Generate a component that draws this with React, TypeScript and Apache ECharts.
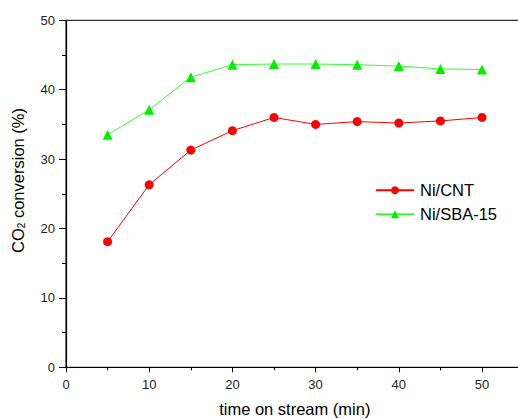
import React, { useEffect, useRef } from "react";
import * as echarts from "echarts";

const timeMin = [5, 10, 15, 20, 25, 30, 35, 40, 45, 50];
const niCnt = [18.1, 26.3, 31.3, 34.1, 36.0, 35.0, 35.4, 35.2, 35.5, 36.0];
const niSba15 = [33.5, 37.1, 41.8, 43.6, 43.7, 43.7, 43.6, 43.4, 43.0, 42.9];
const seriesNames = ["Ni/CNT", "Ni/SBA-15"];

const FONT = "Liberation Sans, Arial, sans-serif";

export default function App() {
  const ref = useRef<HTMLDivElement>(null);
  useEffect(() => {
    if (!ref.current) return;
    const chart = echarts.init(ref.current, null, { renderer: "svg" });
    const pair = (ys: number[]) => timeMin.map((t, i) => [t, ys[i]]);
    chart.setOption({
      animation: false,
      backgroundColor: "#ffffff",
      textStyle: { fontFamily: FONT },
      grid: {
        left: 66,
        top: 20.3,
        width: 457.6,
        height: 347,
        outerBoundsMode: "none",
        containLabel: false,
        show: true,
        borderColor: "#000",
        borderWidth: 1,
        backgroundColor: "transparent",
      },
      legend: {
        left: 375,
        top: 181.7,
        padding: 0,
        orient: "vertical",
        itemWidth: 38,
        itemHeight: 10,
        itemGap: 7,
        textStyle: { fontFamily: FONT, fontSize: 16.5, color: "#000", padding: [0, 0, 0, 1] },
        data: seriesNames,
      },
      xAxis: {
        type: "value",
        min: 0,
        max: 55,
        interval: 10,
        name: "time on stream (min)",
        nameLocation: "middle",
        nameGap: 33.5,
        nameTextStyle: { fontFamily: FONT, fontSize: 16.5, color: "#000" },
        axisLine: { show: true, lineStyle: { color: "#000", width: 1.2 } },
        axisTick: { show: true, inside: false, length: 5, lineStyle: { color: "#000" } },
        minorTick: { show: true, splitNumber: 2, length: 3, lineStyle: { color: "#000" } },
        axisLabel: { fontFamily: FONT, fontSize: 13, color: "#222", margin: 11, showMaxLabel: false },
        splitLine: { show: false },
      },
      yAxis: {
        type: "value",
        min: 0,
        max: 50,
        interval: 10,
        name: "CO{sub|2} conversion (%)",
        nameLocation: "middle",
        nameGap: 40,
        nameRotate: 90,
        nameTextStyle: {
          fontFamily: FONT,
          fontSize: 16.5,
          color: "#000",
          padding: [0, 0, 0, 26.6],
          rich: {
            sub: { fontFamily: FONT, fontSize: 10, color: "#000", verticalAlign: "bottom", padding: [7, 0, 0, 0] },
          },
        },
        axisLine: { show: true, lineStyle: { color: "#000", width: 1.2 } },
        axisTick: { show: true, inside: false, length: 7, lineStyle: { color: "#000" } },
        minorTick: { show: true, splitNumber: 2, length: 4, lineStyle: { color: "#000" } },
        axisLabel: { fontFamily: FONT, fontSize: 13, color: "#222", margin: 11 },
        splitLine: { show: false },
      },
      series: [
        {
          name: seriesNames[0],
          type: "line",
          data: pair(niCnt),
          symbol: "circle",
          symbolSize: 9,
          itemStyle: { color: "#ff0000" },
          lineStyle: { color: "#ff0000", width: 1 },
        },
        {
          name: seriesNames[1],
          type: "line",
          data: pair(niSba15),
          symbol: "triangle",
          symbolSize: 10,
          itemStyle: { color: "#00ee00" },
          lineStyle: { color: "#33ff33", width: 1 },
        },
      ],
    });
    return () => chart.dispose();
  }, []);
  return (
    <div
      ref={ref}
      style={{ position: "fixed", left: 0, top: 0, width: 518, height: 419 }}
    />
  );
}
